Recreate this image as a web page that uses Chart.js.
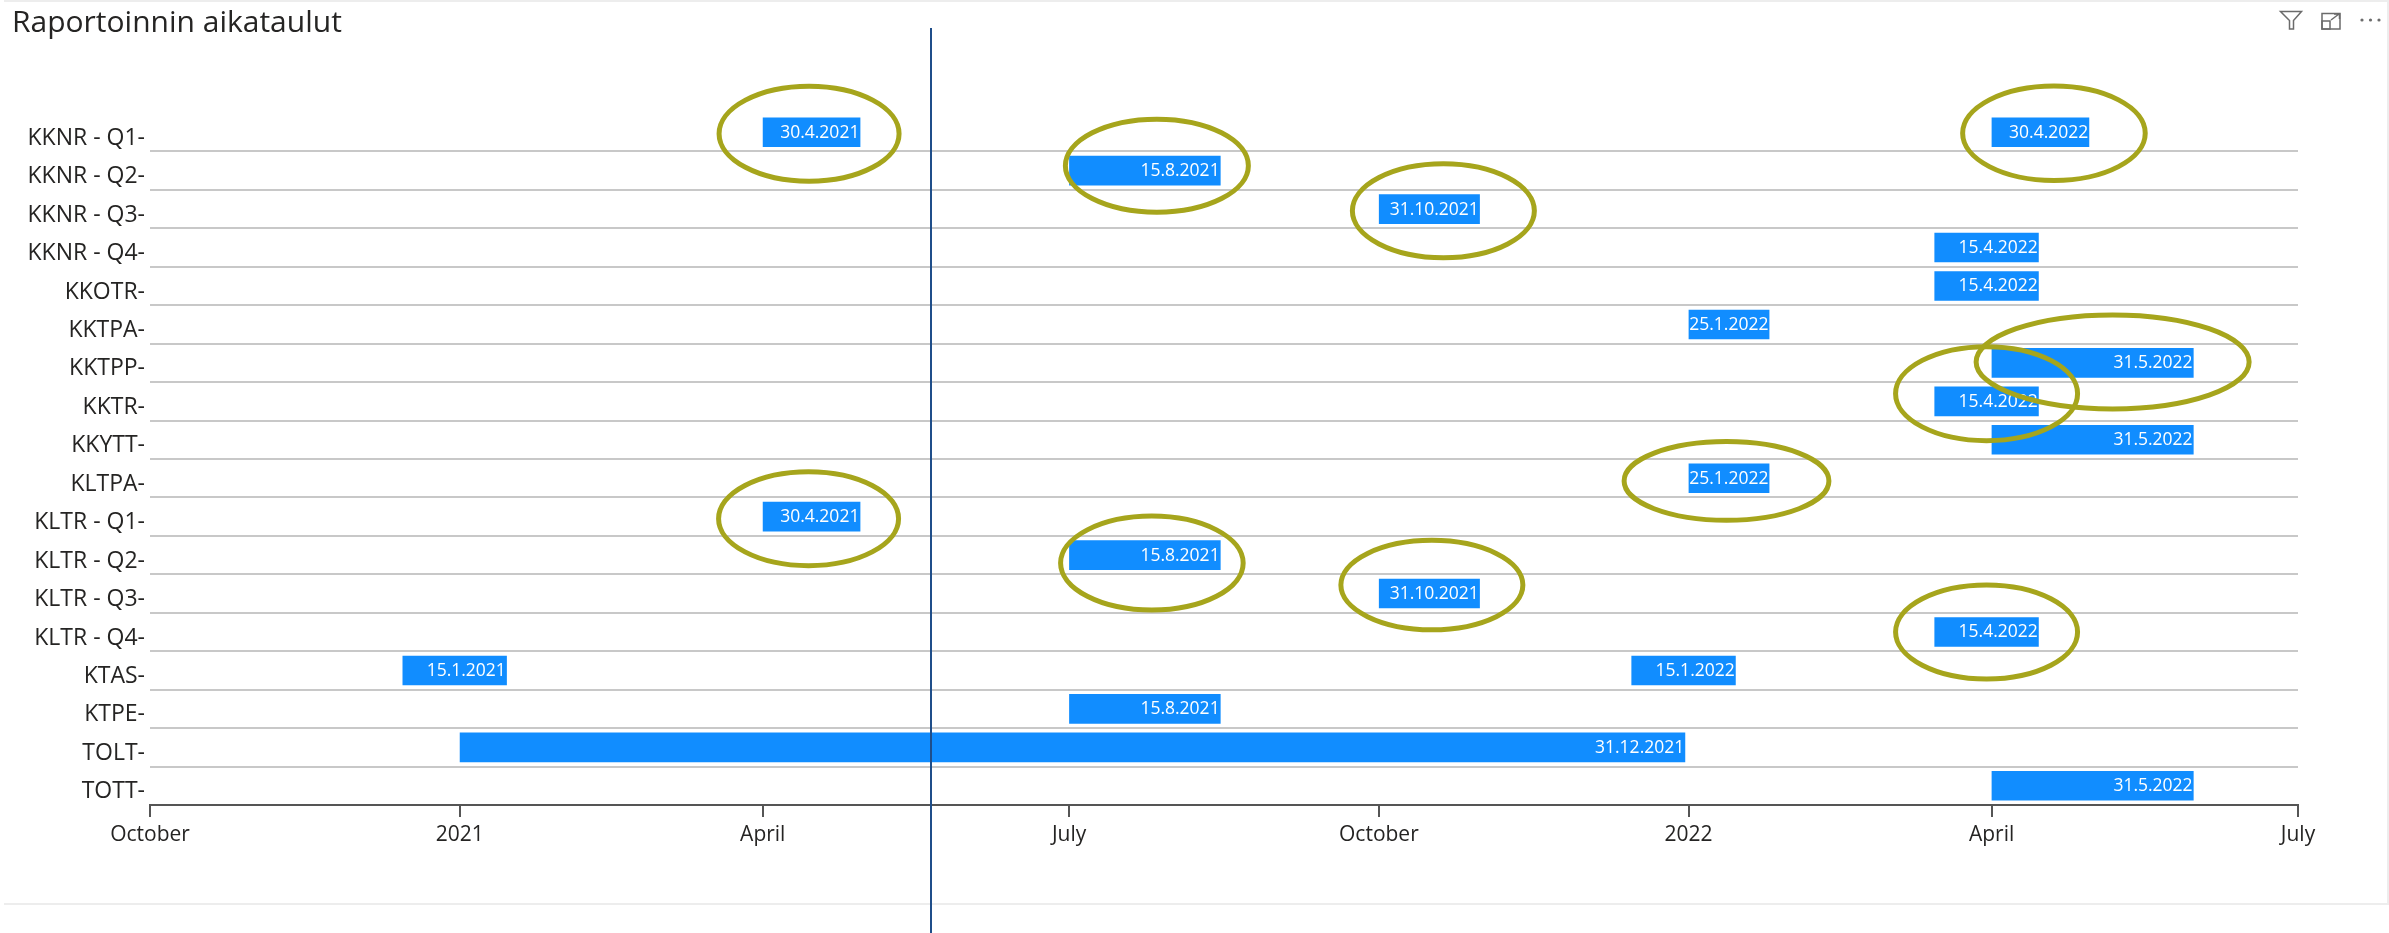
<!DOCTYPE html>
<html>
<head>
<meta charset="utf-8">
<script src="https://cdn.jsdelivr.net/npm/chart.js@4.4.1/dist/chart.umd.min.js"></script>
<style>
  html, body { margin: 0; padding: 0; background: #ffffff; width: 2389px; height: 933px; overflow: hidden; }
  #wrap { position: relative; width: 2389px; height: 933px; }
  #chart { position: absolute; left: 0; top: 0; }
  #frame { position: absolute; left: 4px; top: 0; width: 2385px; height: 905px; box-sizing: border-box;
           border-top: 2px solid #ededed; border-right: 2px solid #ededed; border-bottom: 2px solid #ededed; }
  #title { position: absolute; left: 12px; top: 6px; font-family: 'Open Sans', sans-serif; font-size: 30px;
           line-height: 1; color: #252423; white-space: nowrap; }
  #icons { position: absolute; left: 0; top: 0; }
</style>
</head>
<body>
<div id="wrap">
  <div id="frame"></div>
  <canvas id="chart" width="2389" height="933"></canvas>
  <div id="title">Raportoinnin aikataulut</div>
  <svg id="icons" width="2389" height="40">
    <path d="M2280.5 11.5 L2301.5 11.5 L2293.5 20.5 L2293.5 29 L2289.5 29 L2289.5 20.5 Z" fill="none" stroke="#6b6b6b" stroke-width="1.5"/>
    <rect x="2322" y="13.5" width="18" height="15.5" fill="none" stroke="#6b6b6b" stroke-width="1.5"/>
    <rect x="2322" y="21" width="8" height="8" fill="none" stroke="#6b6b6b" stroke-width="1.5"/>
    <path d="M2331 20 L2339 14 M2334 14 L2339.5 14 L2339.5 19" fill="none" stroke="#6b6b6b" stroke-width="1.5"/>
    <circle cx="2362" cy="20" r="1.6" fill="#6b6b6b"/>
    <circle cx="2370.5" cy="20" r="1.6" fill="#6b6b6b"/>
    <circle cx="2379" cy="20" r="1.6" fill="#6b6b6b"/>
  </svg>
</div>
<script>
// ---------------- data ----------------
const categories = ['KKNR - Q1','KKNR - Q2','KKNR - Q3','KKNR - Q4','KKOTR','KKTPA','KKTPP','KKTR','KKYTT',
                    'KLTPA','KLTR - Q1','KLTR - Q2','KLTR - Q3','KLTR - Q4','KTAS','KTPE','TOLT','TOTT'];
const firstStart = ['2021-04-01','2021-07-01','2021-10-01','2022-03-15','2022-03-15','2022-01-01','2022-04-01','2022-03-15','2022-04-01',
                    '2022-01-01','2021-04-01','2021-07-01','2021-10-01','2022-03-15','2020-12-15','2021-07-01','2021-01-01','2022-04-01'];
const firstEnd   = ['2021-04-30','2021-08-15','2021-10-31','2022-04-15','2022-04-15','2022-01-25','2022-05-31','2022-04-15','2022-05-31',
                    '2022-01-25','2021-04-30','2021-08-15','2021-10-31','2022-04-15','2021-01-15','2021-08-15','2021-12-31','2022-05-31'];
const secondStart = ['2022-04-01',null,null,null,null,null,null,null,null,
                     null,null,null,null,null,'2021-12-15',null,null,null];
const secondEnd   = ['2022-04-30',null,null,null,null,null,null,null,null,
                     null,null,null,null,null,'2022-01-15',null,null,null];
const tickDates  = ['2020-10-01','2021-01-01','2021-04-01','2021-07-01','2021-10-01','2022-01-01','2022-04-01','2022-07-01'];
const tickLabels = ['October','2021','April','July','October','2022','April','July'];
const markerDate = '2021-05-21';

// hand-drawn highlight ellipses (annotation styling, relative to bars)
const highlights = [
  {cat:'KKNR - Q1', set:0, dx:-2.5, dy:1.5, rx:90, ry:47.5},
  {cat:'KKNR - Q2', set:0, dx:12, dy:-5, rx:91.5, ry:46.5},
  {cat:'KKNR - Q3', set:0, dx:14, dy:1.6, rx:91, ry:47},
  {cat:'KKNR - Q1', set:1, dx:13.5, dy:1, rx:91.3, ry:47.2},
  {cat:'KKTPP',     set:0, dx:20, dy:-1, rx:136.5, ry:47},
  {cat:'KKTR',      set:0, dx:0, dy:-7.7, rx:91, ry:47},
  {cat:'KLTPA',     set:0, dx:-2.5, dy:2.7, rx:102.4, ry:39.3},
  {cat:'KLTR - Q1', set:0, dx:-3, dy:2, rx:90, ry:47},
  {cat:'KLTR - Q2', set:0, dx:7, dy:8, rx:91.3, ry:47},
  {cat:'KLTR - Q3', set:0, dx:2.5, dy:-8.5, rx:91, ry:44.7},
  {cat:'KLTR - Q4', set:0, dx:0, dy:0, rx:91, ry:47}
];

// ---------------- helpers ----------------
function ts(s) { const p = s.split('-').map(Number); return Date.UTC(p[0], p[1] - 1, p[2]); }
function fi(s) { const p = s.split('-').map(Number); return p[2] + '.' + p[1] + '.' + p[0]; }

const endSets = [firstEnd, secondEnd];
const data1 = categories.map((c, i) => firstStart[i] ? [ts(firstStart[i]), ts(firstEnd[i])] : null);
const data2 = categories.map((c, i) => secondStart[i] ? [ts(secondStart[i]), ts(secondEnd[i])] : null);

const BAR = '#118DFF';

const decorPlugin = {
  id: 'decor',
  afterDatasetsDraw(chart) {
    const ctx = chart.ctx;
    // bar labels (end date, inside end)
    ctx.save();
    ctx.font = '17.5px "Open Sans"';
    ctx.fillStyle = '#ffffff';
    ctx.textAlign = 'right';
    ctx.textBaseline = 'middle';
    chart.data.datasets.forEach((ds, di) => {
      const meta = chart.getDatasetMeta(di);
      meta.data.forEach((el, i) => {
        const e = endSets[di][i];
        if (!e || ds.data[i] == null) return;
        ctx.fillText(fi(e), el.x - 1, el.y + 0.5);
      });
    });
    ctx.restore();
    // highlight ellipses
    ctx.save();
    ctx.strokeStyle = '#a6a51c';
    ctx.lineWidth = 5;
    highlights.forEach(h => {
      const idx = categories.indexOf(h.cat);
      const el = chart.getDatasetMeta(h.set).data[idx];
      if (!el) return;
      const cx = (el.x + el.base) / 2 + h.dx;
      const cy = el.y + h.dy;
      ctx.beginPath();
      ctx.ellipse(cx, cy, h.rx, h.ry, 0, 0, Math.PI * 2);
      ctx.stroke();
    });
    ctx.restore();
  },
  afterDraw(chart) {
    const ctx = chart.ctx;
    const x = Math.round(chart.scales.x.getPixelForValue(ts(markerDate)));
    ctx.save();
    ctx.strokeStyle = '#1f4e8a';
    ctx.lineWidth = 2;
    ctx.beginPath();
    ctx.moveTo(x, 28);
    ctx.lineTo(x, chart.height);
    ctx.stroke();
    ctx.restore();
  }
};

new Chart(document.getElementById('chart'), {
  type: 'bar',
  data: {
    labels: categories,
    datasets: [
      { label: 'first', data: data1, backgroundColor: BAR, grouped: false, barPercentage: 0.77, categoryPercentage: 1 },
      { label: 'second', data: data2, backgroundColor: BAR, grouped: false, barPercentage: 0.77, categoryPercentage: 1 }
    ]
  },
  options: {
    responsive: false,
    animation: false,
    devicePixelRatio: 1,
    indexAxis: 'y',
    layout: { padding: { left: 0, right: 91, top: 113, bottom: 78 } },
    plugins: { legend: { display: false }, tooltip: { enabled: false }, title: { display: false } },
    scales: {
      x: {
        type: 'linear',
        min: ts(tickDates[0]),
        max: ts(tickDates[tickDates.length - 1]),
        afterBuildTicks: s => { s.ticks = tickDates.map(d => ({ value: ts(d) })); },
        afterFit: s => { s.height = 50; },
        ticks: {
          autoSkip: false, maxRotation: 0, minRotation: 0, padding: 5,
          color: '#252423', font: { family: 'Open Sans', size: 21 },
          callback: (v, i) => tickLabels[i]
        },
        grid: { drawOnChartArea: false, drawTicks: true, tickLength: 12, tickWidth: 2, tickColor: '#555555', lineWidth: 2, color: '#555555' },
        border: { display: true, color: '#555555', width: 2 }
      },
      y: {
        type: 'category',
        afterFit: s => { s.width = 150; },
        ticks: {
          autoSkip: false, padding: 5, labelOffset: 6,
          color: '#252423', font: { family: 'Open Sans', size: 23 },
          callback: (v, i) => categories[i] + '-'
        },
        grid: { drawTicks: false, lineWidth: 2, color: c => (c.index === 0 ? 'rgba(0,0,0,0)' : '#c8c8c8') },
        border: { display: false }
      }
    }
  },
  plugins: [decorPlugin]
});
</script>
</body>
</html>
